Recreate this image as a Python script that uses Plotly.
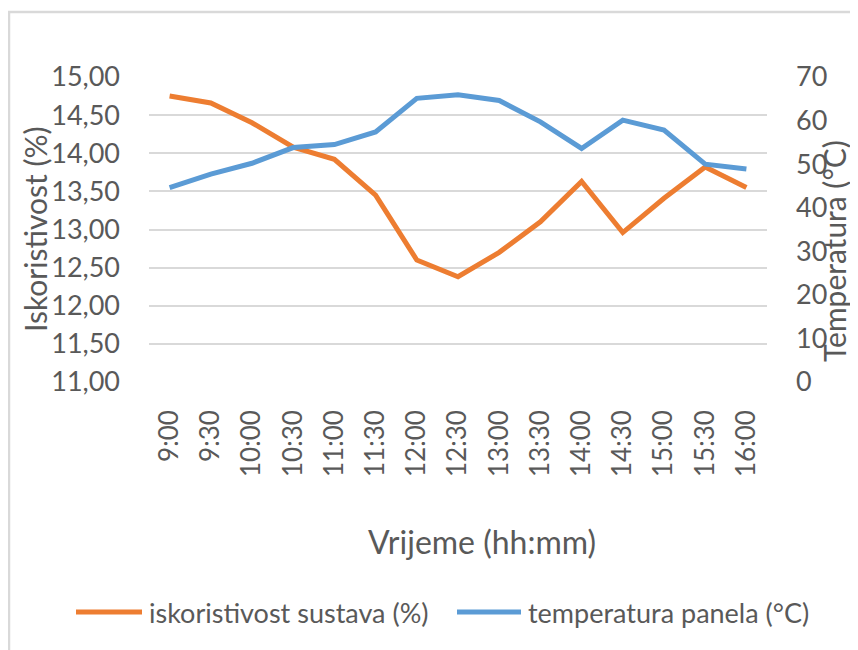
import plotly.graph_objects as go

times = ["9:00", "9:30", "10:00", "10:30", "11:00", "11:30", "12:00", "12:30",
         "13:00", "13:30", "14:00", "14:30", "15:00", "15:30", "16:00"]
iskoristivost = [14.75, 14.66, 14.40, 14.08, 13.92, 13.45, 12.60, 12.38,
                 12.70, 13.10, 13.63, 12.96, 13.41, 13.82, 13.55]
temperatura = [44.6, 47.7, 50.2, 53.8, 54.5, 57.4, 65.1, 65.9,
               64.6, 59.7, 53.6, 60.1, 57.8, 50.0, 48.9]
series_names = ["iskoristivost sustava (%)", "temperatura panela (°C)"]

FONT = "Lato"
TXT = "#595959"
ORANGE = "#ED7D31"
BLUE = "#5B9BD5"
GRID = "#D9D9D9"

fig = go.Figure()
fig.add_trace(go.Scatter(x=times, y=iskoristivost, mode="lines",
                         name=series_names[0], showlegend=False,
                         line=dict(color=ORANGE, width=5), yaxis="y"))
fig.add_trace(go.Scatter(x=times, y=temperatura, mode="lines",
                         name=series_names[1], showlegend=False,
                         line=dict(color=BLUE, width=5), yaxis="y2"))

# page body has an 8px margin; figure is sized so it fits the 858x650 window
OFF = 8
W, H = 858 - OFF, 650 - OFF
L, T = 149 - OFF, 77 - OFF
R = W - (767 - OFF)
B = H - (382 - OFF)
pw, ph = W - L - R, H - T - B


def px2x(px):
    # px: horizontal pixel position in the window
    return (px - OFF - L) / pw


def py2y(py):
    return (H - B - (py - OFF)) / ph


# legend (drawn manually for Excel-like long sample lines)
leg_y = 612
legend_shapes = [
    dict(type="line", xref="paper", yref="paper",
         x0=px2x(76), x1=px2x(142), y0=py2y(leg_y), y1=py2y(leg_y),
         line=dict(color=ORANGE, width=5)),
    dict(type="line", xref="paper", yref="paper",
         x0=px2x(457), x1=px2x(521), y0=py2y(leg_y), y1=py2y(leg_y),
         line=dict(color=BLUE, width=5)),
]
legend_ann = [
    dict(text=series_names[0], xref="paper", yref="paper",
         x=px2x(147), y=py2y(leg_y), xanchor="left", yanchor="middle",
         showarrow=False, font=dict(family=FONT, size=27, color=TXT)),
    dict(text=series_names[1], xref="paper", yref="paper",
         x=px2x(526), y=py2y(leg_y), xanchor="left", yanchor="middle",
         showarrow=False, font=dict(family=FONT, size=27, color=TXT)),
]

fig.update_layout(
    width=W, height=H,
    margin=dict(l=L, r=R, t=T, b=B, autoexpand=False),
    paper_bgcolor="white", plot_bgcolor="white",
    separators=", ",
    font=dict(family=FONT, color=TXT, size=26),
    showlegend=False,
    xaxis=dict(type="category", range=[-0.5, 14.5], tickangle=-90,
               showgrid=False, zeroline=False, showline=False, ticks="",
               ticklabelstandoff=22, tickfont=dict(size=26, color=TXT)),
    yaxis=dict(range=[11, 15], dtick=0.5, tickformat=".2f", showgrid=True,
               gridcolor=GRID, gridwidth=1.5, zeroline=False, showline=False,
               ticks="", ticklabelstandoff=28,
               tickfont=dict(size=27, color=TXT)),
    yaxis2=dict(range=[0, 70], dtick=10, overlaying="y", side="right",
                showgrid=False, zeroline=False, showline=False, ticks="",
                ticklabelstandoff=28, tickfont=dict(size=27, color=TXT)),
    shapes=[dict(type="rect", xref="paper", yref="paper",
                 x0=px2x(9), x1=px2x(880), y0=py2y(680), y1=py2y(12),
                 line=dict(color=GRID, width=2.5), layer="below")]
           + legend_shapes,
    annotations=[
        dict(text="Iskoristivost (%)", xref="paper", yref="paper",
             x=px2x(35), y=py2y(229), textangle=-90, showarrow=False,
             xanchor="center", yanchor="middle",
             font=dict(family=FONT, size=30, color=TXT)),
        dict(text="Temperatura (°C)", xref="paper", yref="paper",
             x=px2x(834), y=py2y(251), textangle=-90, showarrow=False,
             xanchor="center", yanchor="middle",
             font=dict(family=FONT, size=30, color=TXT)),
        dict(text="Vrijeme (hh:mm)", xref="paper", yref="paper",
             x=px2x(482), y=py2y(541), showarrow=False,
             xanchor="center", yanchor="middle",
             font=dict(family=FONT, size=32, color=TXT)),
    ] + legend_ann,
)

fig.write_html("out.html")
